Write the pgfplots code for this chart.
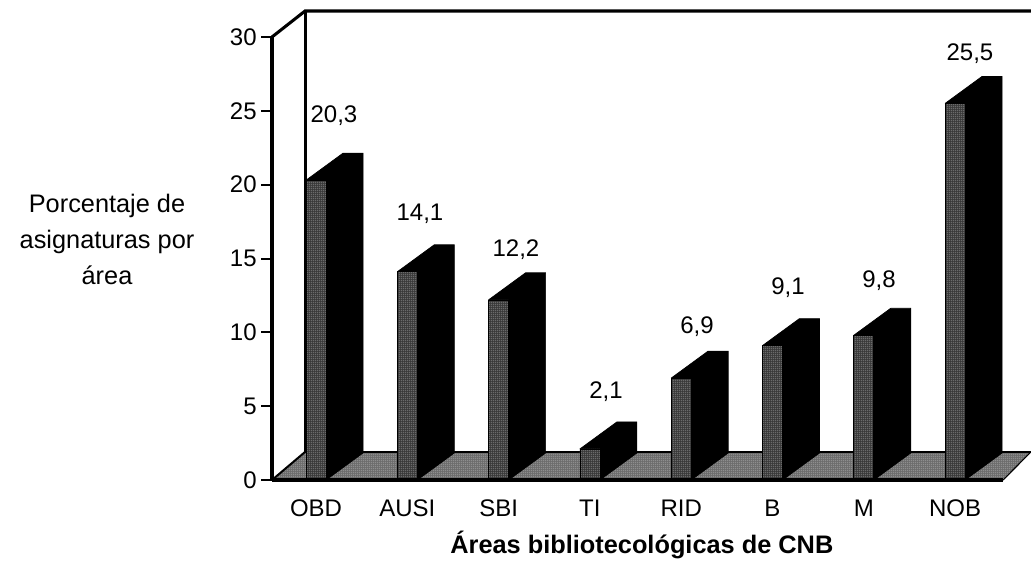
\documentclass[border=0pt]{standalone}
\usepackage{fontspec}
\setmainfont{Liberation Sans}
\usepackage{pgfplots}
\usepackage{pgfplotstable}
\usetikzlibrary{patterns}
\pgfplotsset{compat=1.18}

\definecolor{floorgray}{gray}{0.42}
\definecolor{frontgray}{gray}{0.22}
\pgfdeclarepatternformonly{finedots}{\pgfqpoint{-0.5pt}{-0.5pt}}{\pgfqpoint{1pt}{1pt}}{\pgfqpoint{1.5pt}{1.5pt}}{%
  \pgfpathrectangle{\pgfqpoint{0pt}{0pt}}{\pgfqpoint{0.75pt}{0.75pt}}\pgfusepath{fill}}

\pgfplotstableread{
idx val
0 20.3
1 14.1
2 12.2
3 2.1
4 6.9
5 9.1
6 9.8
7 25.5
}\areas

% 1 px of the reference = 0.75pt; 91.3 px per category, 14.77 px per percent
\newcommand{\barside}[2]{%
  \pgfmathsetmacro{\xa}{#1+0.11}%
  \pgfmathsetmacro{\xb}{#1-0.11+0.405}%
  \pgfmathsetmacro{\xc}{#1+0.11+0.405}%
  \pgfmathsetmacro{\xd}{#1-0.11}%
  \pgfmathsetmacro{\yt}{#2+1.83}%
  \addplot[fill=black,draw=black,line width=0.5pt] coordinates
    {(\xd,#2)(\xb,\yt)(\xc,\yt)(\xc,1.83)(\xa,0)(\xa,#2)(\xd,#2)};
}

\begin{document}
\begin{tikzpicture}
\path[use as bounding box] (0pt,0pt) rectangle (773.25pt,421.5pt);
\begin{axis}[
    at={(204pt,61.5pt)},
    anchor=south west,
    scale only axis,
    width=548.25pt,
    height=332.25pt,
    xmin=-0.482, xmax=7.525,
    ymin=0, ymax=30,
    clip=false,
    axis x line*=bottom,
    axis y line*=left,
    axis line style={-,line width=2.3pt},
    xtick={0,1,2,3,4,5,6,7},
    xticklabels={OBD,AUSI,SBI,TI,RID,B,M,NOB},
    ytick={0,5,10,15,20,25,30},
    tick align=outside,
    major tick length=8pt,
    y tick style={black,line width=1.5pt},
    x tick style={draw=none},
    tick label style={font=\fontsize{18}{20}\selectfont},
    xticklabel style={yshift=-3pt,text height=13pt,text depth=0pt},
    /pgf/number format/assume math mode=true,
    xlabel={\bfseries Áreas bibliotecológicas de CNB},
    ylabel={Porcentaje de\\asignaturas por\\área},
    every axis x label/.style={at={(rel axis cs:0.506,-0.1467)},anchor=center,
      font=\fontsize{19}{20}\selectfont},
    every axis y label/.style={at={(rel axis cs:-0.2257,0.542)},anchor=center,align=center,
      font=\fontsize{19}{27}\selectfont},
]
% back wall and floor
\addplot[fill=floorgray,draw=none,postaction={pattern=finedots,pattern color=white!75!black}] coordinates
  {(-0.482,0)(7.525,0)(7.832,1.9)(-0.12,1.9)(-0.482,0)};
\addplot[black,line width=2.3pt] coordinates
  {(-0.482,30)(-0.12,31.76)(7.832,31.76)};
\addplot[black,line width=2.3pt] coordinates {(-0.12,31.76)(-0.12,1.9)};
\addplot[black,line width=1pt] coordinates {(-0.12,1.9)(7.832,1.9)};
\addplot[black,line width=0.8pt] coordinates {(7.525,0)(7.832,1.9)};
\addplot[black,line width=1.5pt] coordinates {(-0.482,0)(-0.12,1.9)};

% side and top of every bar
\barside{0}{20.3}
\barside{1}{14.1}
\barside{2}{12.2}
\barside{3}{2.1}
\barside{4}{6.9}
\barside{5}{9.1}
\barside{6}{9.8}
\barside{7}{25.5}

% front of every bar
\addplot[ybar,bar width=15pt,bar shift=0pt,fill=frontgray,draw=black,line width=0.5pt,
    postaction={pattern=finedots,pattern color=white!70!black}]
  table[x=idx,y=val] {\areas};

% front axis line again, over the bars
\addplot[black,line width=2.3pt] coordinates {(-0.482,0)(7.525,0)};

\node[font=\fontsize{18}{20}\selectfont] at (axis cs:0.197,24.7) {20,3};
\node[font=\fontsize{18}{20}\selectfont] at (axis cs:1.139,18.0) {14,1};
\node[font=\fontsize{18}{20}\selectfont] at (axis cs:2.19,15.6) {12,2};
\node[font=\fontsize{18}{20}\selectfont] at (axis cs:3.176,5.95) {2,1};
\node[font=\fontsize{18}{20}\selectfont] at (axis cs:4.173,10.4) {6,9};
\node[font=\fontsize{18}{20}\selectfont] at (axis cs:5.17,13.05) {9,1};
\node[font=\fontsize{18}{20}\selectfont] at (axis cs:6.166,13.5) {9,8};
\node[font=\fontsize{18}{20}\selectfont] at (axis cs:7.163,28.9) {25,5};
\end{axis}
\end{tikzpicture}
\end{document}
